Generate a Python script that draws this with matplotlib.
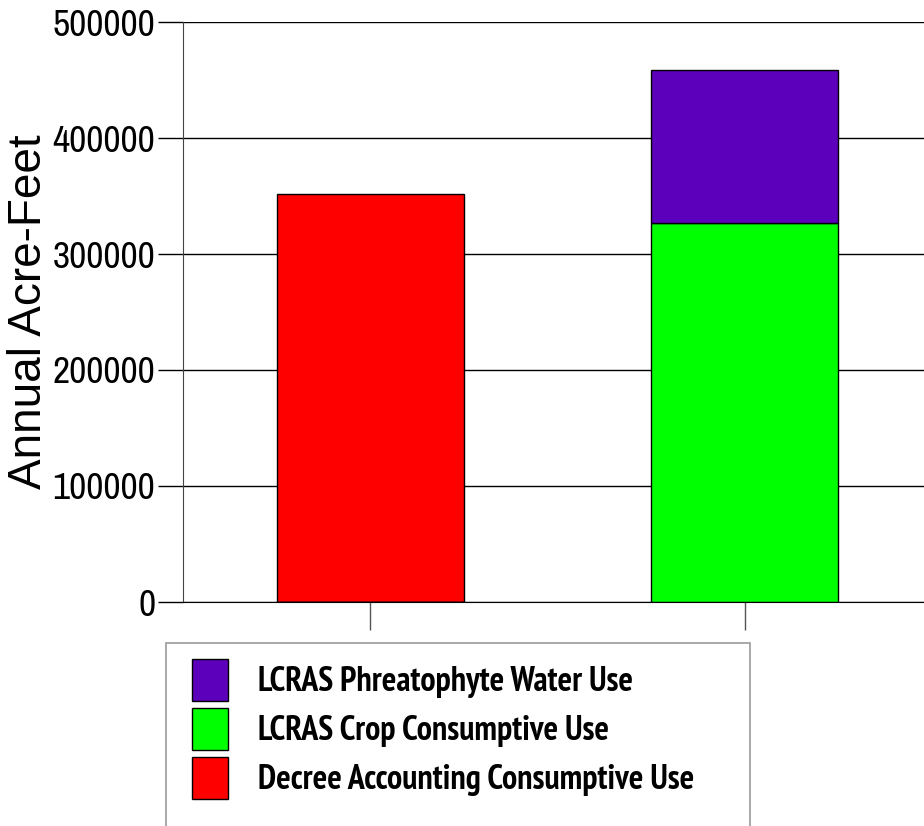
import matplotlib.pyplot as plt
from matplotlib.font_manager import FontProperties
from matplotlib.patches import Rectangle

# bar data (acre-feet per year)
positions = [1, 2]
decree_cu = [351500, 0]
crop_cu = [0, 326500]
phreato_use = [0, 132000]
series_labels = ["Decree Accounting Consumptive Use",
                 "LCRAS Crop Consumptive Use",
                 "LCRAS Phreatophyte Water Use"]
yticks = [0, 100000, 200000, 300000, 400000, 500000]

tick_font = ["Archivo Narrow", "DejaVu Sans"]
legend_font = ["PT Sans Narrow", "DejaVu Sans"]

fig = plt.figure(figsize=(9.24, 8.26), dpi=100)
ax = fig.add_axes([183 / 924, 1 - 602 / 826, 749 / 924, 580 / 826])

red = ax.bar(positions, decree_cu, width=0.5, color="#ff0000", edgecolor="black", linewidth=1)
green = ax.bar(positions, crop_cu, width=0.5, color="#00ff00", edgecolor="black", linewidth=1)
purple = ax.bar(positions, phreato_use, width=0.5, bottom=crop_cu,
                color="#5d00bc", edgecolor="black", linewidth=1)

ax.set_xlim(0.5, 2.5)
ax.set_ylim(0, 500000)
ax.set_yticks(yticks)
ax.set_yticklabels([str(v) for v in yticks], fontfamily=tick_font, fontsize=27)
ax.set_xticks(positions)
ax.set_xticklabels(["", ""])
ax.tick_params(axis="y", length=18, width=1, pad=2, color="black")
ax.tick_params(axis="x", length=20, width=1, color="#555555")
ax.yaxis.grid(True, color="black", linewidth=1)
ax.set_axisbelow(True)
for s in ["top", "right"]:
    ax.spines[s].set_visible(False)
ax.spines["left"].set_color("#444444")
ax.spines["bottom"].set_color("black")
ax.set_ylabel("Annual Acre-Feet", fontfamily=["Liberation Sans", "DejaVu Sans"], fontsize=33)
ax.yaxis.set_label_coords(-132 / 749, 0.5)

# legend box is wider than its contents and runs off the bottom edge
fig.patches.append(Rectangle((166 / 924, -0.02), (750 - 166) / 924, 1 - 643 / 826 + 0.02,
                             transform=fig.transFigure, facecolor="white",
                             edgecolor="#999999", linewidth=1.2, zorder=1))
leg = fig.legend([purple, green, red], series_labels[::-1],
                 loc="upper left", bbox_to_anchor=(170 / 924, 1 - 637 / 826),
                 prop=FontProperties(family=legend_font, weight="bold", size=24.5),
                 frameon=False, borderpad=0.65,
                 handlelength=1.06, handleheight=1.52, handletextpad=0.88,
                 labelspacing=0.2, borderaxespad=0)
leg.set_zorder(2)

fig.savefig("out.png", dpi=100)
